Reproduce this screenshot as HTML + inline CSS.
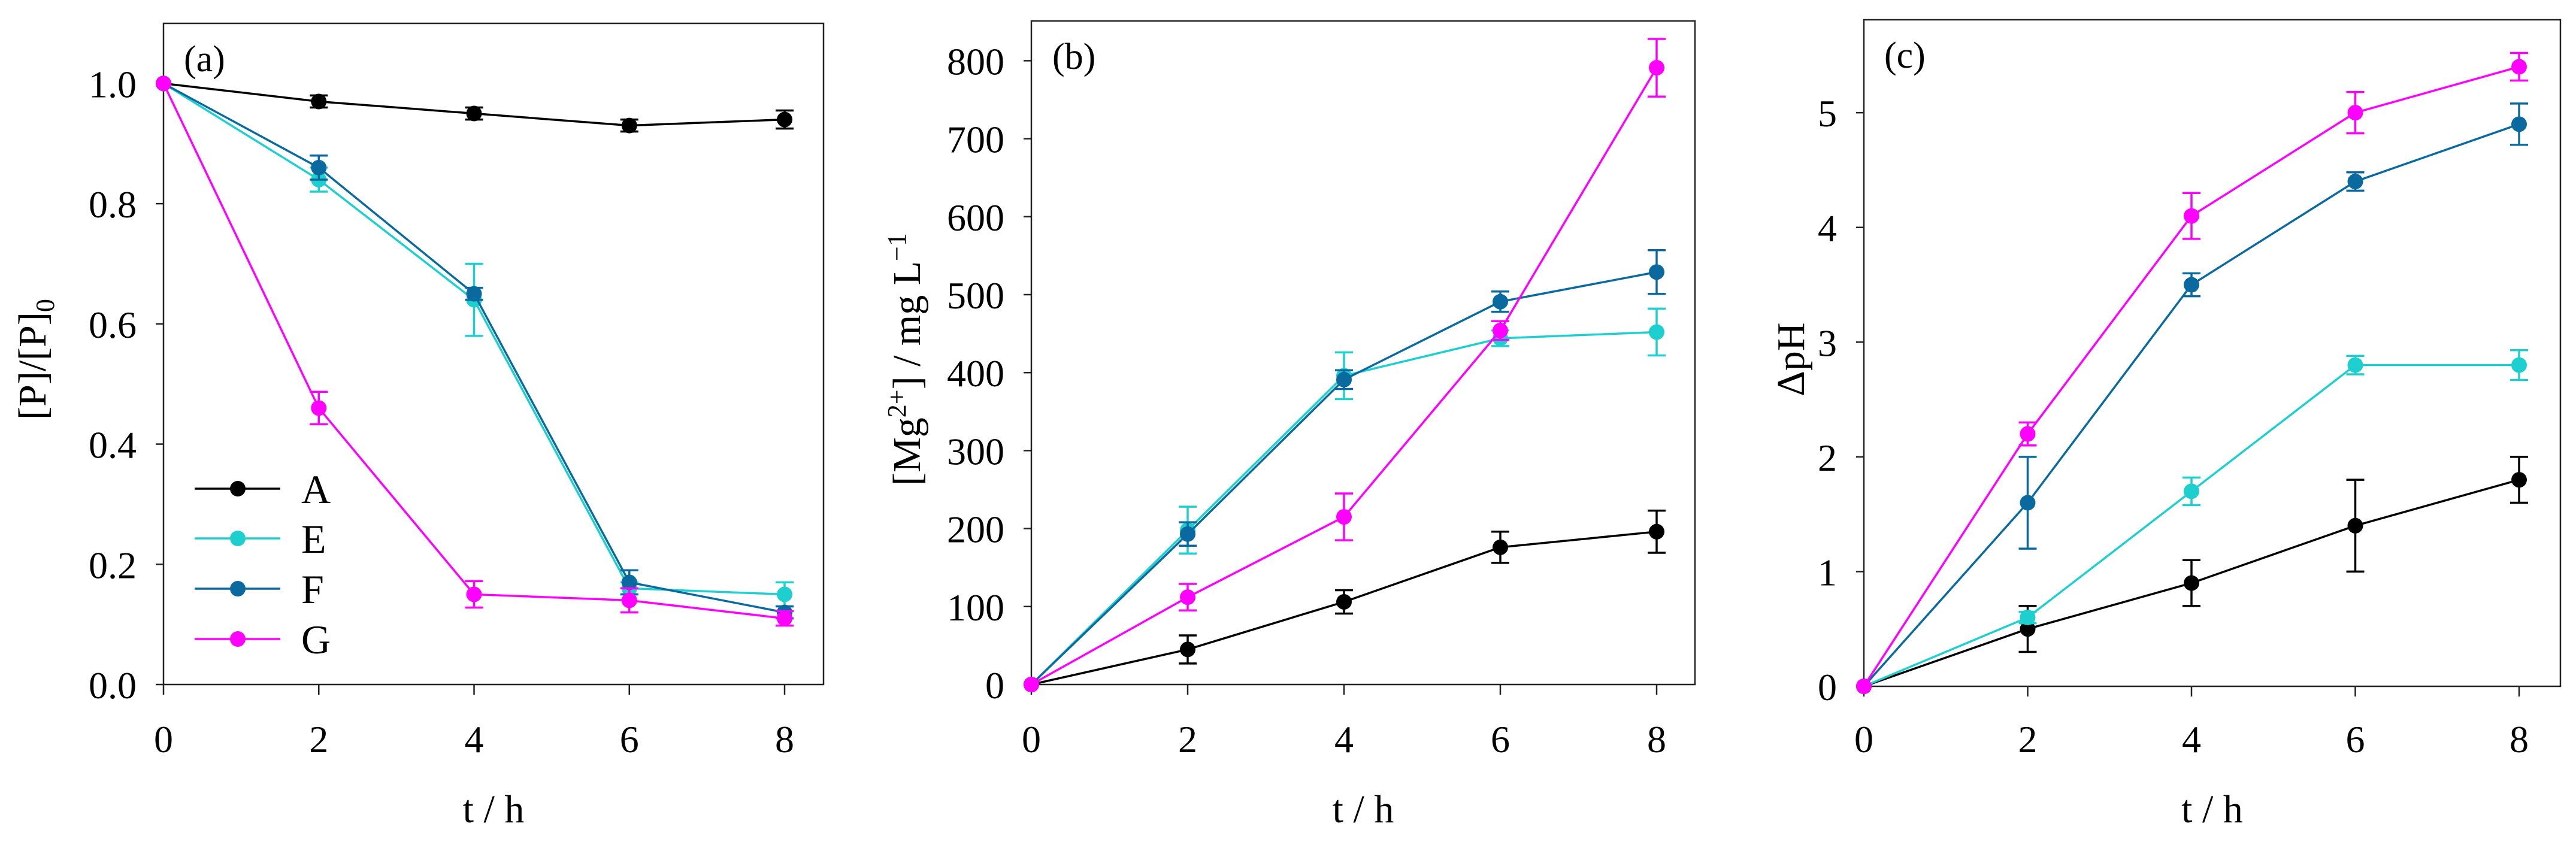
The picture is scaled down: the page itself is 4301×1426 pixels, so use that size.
<!DOCTYPE html>
<html><head><meta charset="utf-8"><style>
body{margin:0;background:#fff}
svg{display:block;font-family:"Liberation Serif",serif}
</style></head><body>
<svg id="fig" width="4301" height="1426" viewBox="0 0 4301 1426" xmlns="http://www.w3.org/2000/svg"></svg>
<script>
const times = [0, 2, 4, 6, 8];
const seriesNames = ["A", "E", "F", "G"];
const seriesColors = ["#000000", "#1ecfcf", "#0a6aa0", "#ff00ff"];
// panel a
const aA = [1, 0.97, 0.95, 0.93, 0.94], aAerr = [0, 0.01, 0.01, 0.01, 0.015];
const aE = [1, 0.84, 0.64, 0.16, 0.15], aEerr = [0, 0.02, 0.06, 0.01, 0.02];
const aF = [1, 0.86, 0.65, 0.17, 0.12], aFerr = [0, 0.02, 0.01, 0.02, 0.01];
const aG = [1, 0.46, 0.15, 0.14, 0.11], aGerr = [0, 0.027, 0.022, 0.02, 0.012];
const aTicks = ["0.0", "0.2", "0.4", "0.6", "0.8", "1.0"];
// panel b
const bA = [0, 45, 106, 176, 196], bAerr = [0, 18, 15, 20, 27];
const bE = [0, 198, 396, 444, 452], bEerr = [0, 30, 30, 10, 30];
const bF = [0, 193, 391, 491, 529], bFerr = [0, 15, 12, 13, 28];
const bG = [0, 112, 215, 454, 791], bGerr = [0, 17, 30, 12, 37];
const bTicks = ["0", "100", "200", "300", "400", "500", "600", "700", "800"];
// panel c
const cA = [0, 0.5, 0.9, 1.4, 1.8], cAerr = [0, 0.2, 0.2, 0.4, 0.2];
const cE = [0, 0.6, 1.7, 2.8, 2.8], cEerr = [0, 0.05, 0.12, 0.08, 0.13];
const cF = [0, 1.6, 3.5, 4.4, 4.9], cFerr = [0, 0.4, 0.1, 0.08, 0.18];
const cG = [0, 2.2, 4.1, 5.0, 5.4], cGerr = [0, 0.1, 0.2, 0.18, 0.12];
const cTicks = ["0", "1", "2", "3", "4", "5"];
const xTicks = ["0", "2", "4", "6", "8"];

const NS = "http://www.w3.org/2000/svg";
const svg = document.getElementById("fig");
function mk(tag, attrs, parent) {
  const e = document.createElementNS(NS, tag);
  for (const k in attrs) e.setAttribute(k, attrs[k]);
  (parent || svg).appendChild(e);
  return e;
}

const panels = [
  {id:"a", L:273, R:1375, T:39, B:1143, x0:273, x8:1310, ymax:1.1, tickStep:0.2, ticks:aTicks,
   data:[[aA,aAerr],[aE,aEerr],[aF,aFerr],[aG,aGerr]], label:"(a)", lx:307},
  {id:"b", L:1722, R:2830, T:35, B:1143, x0:1722, x8:2766, ymax:851, tickStep:100, ticks:bTicks,
   data:[[bA,bAerr],[bE,bEerr],[bF,bFerr],[bG,bGerr]], label:"(b)", lx:1757},
  {id:"c", L:3112, R:4275, T:33, B:1146, x0:3112, x8:4206, ymax:5.81, tickStep:1, ticks:cTicks,
   data:[[cA,cAerr],[cE,cEerr],[cF,cFerr],[cG,cGerr]], label:"(c)", lx:3146}
];

panels.forEach(p => {
  const g = mk("g", {});
  
  
  const xs = v => p.x0 + (p.x8 - p.x0) * v / 8;
  const ys = v => p.B - (p.B - p.T) * v / p.ymax;
  const frame = mk("rect", {x:p.L, y:p.T, width:p.R-p.L, height:p.B-p.T, fill:"none", stroke:"#222", "stroke-width":2.5}, g);
  
  
  times.forEach((t, i) => {
    const x = xs(t);
    mk("line", {x1:x, x2:x, y1:p.B, y2:p.B+17, stroke:"#222", "stroke-width":2.5}, g);
    const tx = mk("text", {x:x, y:1256, "font-size":64, "text-anchor":"middle"}, g);
    tx.textContent = xTicks[i];
    
    
  });
  p.ticks.forEach((lab, i) => {
    const y = ys(i * p.tickStep);
    mk("line", {x1:p.L-13, x2:p.L, y1:y, y2:y, stroke:"#222", "stroke-width":2.5}, g);
    const ty = mk("text", {x:p.L-45, y:y+23, "font-size":64, "text-anchor":"end"}, g);
    ty.textContent = lab;
    
    
  });
  const xl = mk("text", {x:(p.L+p.R)/2, y:1373, "font-size":66, "text-anchor":"middle"}, g);
  xl.textContent = "t / h";
  
  
  const pl = mk("text", {x:p.lx, y:p.T+80, "font-size":62}, g);
  pl.textContent = p.label;
  
  
  p.data.forEach((sd, si) => {
    const vals = sd[0], errs = sd[1], col = seriesColors[si];
    const sg = mk("g", {}, g);
    
    
    const pts = vals.map((v, i) => xs(times[i]) + "," + ys(v)).join(" ");
    mk("polyline", {points:pts, fill:"none", stroke:col, "stroke-width":3.5}, sg);
    vals.forEach((v, i) => {
      const x = xs(times[i]);
      if (errs[i] > 0) {
        const y1 = ys(v + errs[i]), y2 = ys(v - errs[i]);
        mk("line", {x1:x, x2:x, y1:y1, y2:y2, stroke:col, "stroke-width":3.5}, sg);
        mk("line", {x1:x-15, x2:x+15, y1:y1, y2:y1, stroke:col, "stroke-width":3.5}, sg);
        mk("line", {x1:x-15, x2:x+15, y1:y2, y2:y2, stroke:col, "stroke-width":3.5}, sg);
      }
      const c = mk("circle", {cx:x, cy:ys(v), r:13, fill:col}, sg);
      
      
    });
  });
});

function ytitle(x, y, html, name) {
  const t = mk("text", {x:x, y:y, "font-size":66, "text-anchor":"middle", transform:"rotate(-90 "+x+" "+y+")"});
  t.innerHTML = html;
  
  
}
ytitle(76, 600, '[P]/[P]<tspan font-size="44" dy="14">0</tspan>', 'y-axis-title-a');
ytitle(1536, 600, '[Mg<tspan font-size="44" dy="-24">2+</tspan><tspan dy="24">] / mg L</tspan><tspan font-size="44" dy="-24">−1</tspan>', 'y-axis-title-b');
ytitle(3012, 600, 'ΔpH', 'y-axis-title-c');

const lg = mk("g", {});


const legY = [816, 899, 983, 1067];
seriesNames.forEach((n, i) => {
  const e = mk("g", {}, lg);
  
  
  mk("line", {x1:325, x2:468, y1:legY[i], y2:legY[i], stroke:seriesColors[i], "stroke-width":3.5}, e);
  mk("circle", {cx:397, cy:legY[i], r:13, fill:seriesColors[i]}, e);
  const t = mk("text", {x:503, y:legY[i]+24, "font-size":68}, e);
  t.textContent = n;
});
</script>
</body></html>
